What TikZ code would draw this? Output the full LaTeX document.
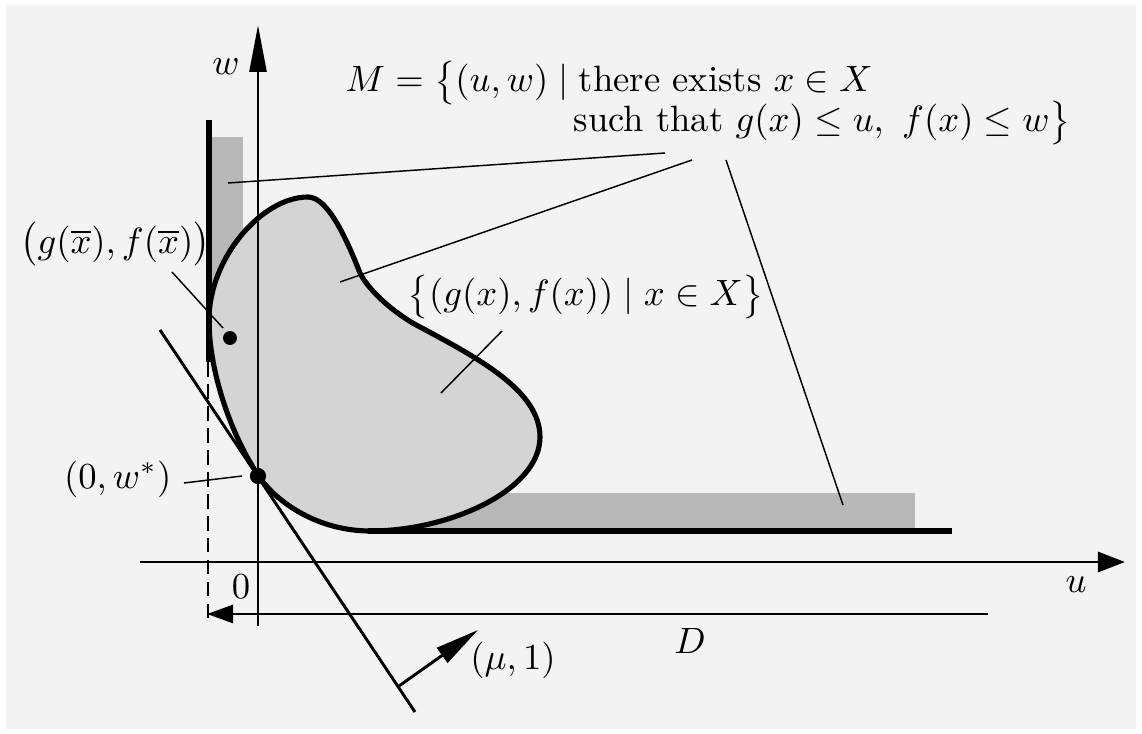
\documentclass[tikz,border=0pt]{standalone}
\usepackage{amsmath,amssymb}
\usepackage{tikz}
\usetikzlibrary{arrows.meta,calc,positioning}
\definecolor{bggray}{RGB}{243,243,243}
\definecolor{setgray}{RGB}{212,212,212}
\definecolor{rectgray}{RGB}{184,184,184}
\tikzset{
  axis/.style={
    line width=0.8pt
  },
  thickseg/.style={
    line width=1.6pt
  },
  leader/.style={
    line width=0.4pt
  },
  blobline/.style={
    line width=1.4pt,
    fill=setgray
  },
  dot/.style={
    circle,
    fill=black,
    inner sep=0pt
  },
  lbl/.style={
    inner sep=0pt
  }
}
\begin{document}
\begin{tikzpicture}[x=0.273pt, y=-0.273pt]
  % background
  \fill[white] (0,0) rectangle (1142,734);
  \fill[bggray] (6,5) rectangle (1136,729);

  % shaded strips of M
  \fill[rectgray] (212,137) rectangle (243,345);
  \fill[rectgray] (370,493) rectangle (915,528);

  % the set of attainable pairs
  \draw[blobline] (308,197)
    .. controls (328,197) and (347,240) .. (360,273)
    .. controls (371,295) and (402,318) .. (420,327)
    .. controls (482,360) and (540,392) .. (540,437)
    .. controls (540,490) and (450,531) .. (370,531)
    .. controls (320,531) and (277,504) .. (258,475)
    .. controls (230,433) and (209,370) .. (209,320)
    .. controls (209,258) and (262,197) .. (308,197) -- cycle;

  % boundaries of M
  \draw[thickseg] (209,120) -- (209,362);
  \draw[thickseg] (368,531) -- (952,531);
  \draw[axis, dash pattern=on 4pt off 2pt] (208,362) -- (208,620);

  % axes
  \coordinate (wbot) at (258,626);
  \coordinate (wtop) at (258,25);
  \coordinate (uleft) at (140,562);
  \coordinate (uright) at (1125,562);
  \draw[axis, -{Triangle[length=12.8pt,width=4.6pt]}] (wbot) -- (wtop);
  \draw[axis, -{Triangle[length=7.4pt,width=5.5pt]}] (uleft) -- (uright);
  \node[lbl] (wlab) at (226,67) {$w$};
  \node[lbl] (ulab) at (1076,585) {$u$};
  \node[lbl] (zero) at (241,587) {$0$};

  % distance D
  \coordinate (dright) at (988,614);
  \coordinate (dleft) at (207,614);
  \draw[axis, -{Triangle[length=7.1pt,width=4.9pt]}] (dright) -- (dleft);
  \node[lbl] (dlab) at (690,641) {$D$};

  % supporting hyperplane and normal
  \coordinate (hyp1) at (160,330);
  \coordinate (hyp2) at (415,712);
  \draw[axis] (hyp1) -- (hyp2);
  \coordinate (nbase) at (399,686);
  \coordinate (ntip) at (478,630);
  \draw[axis, -{Triangle[length=12pt,width=4.9pt]}] (nbase) -- (ntip);
  \node[lbl] (mulab) at (513,660) {$(\mu,1)$};

  % points
  \node[dot, minimum size=4.4pt] (wstar) at (258,476) {};
  \node[dot, minimum size=3.8pt] (xbar) at (230,338) {};

  % labels
  \node[lbl, anchor=base west] (mtop) at (345,92)
    {$M=\bigl\{(u,w)\mid\text{there exists }x\in X$};
  \node[lbl, anchor=base west] (mbot) at (573,132)
    {such that $g(x)\le u,\ f(x)\le w\bigr\}$};
  \node[lbl, anchor=base west] (gflab) at (407,306)
    {$\bigl\{(g(x),f(x))\mid x\in X\bigr\}$};
  \node[lbl, anchor=base west] (xbarlab) at (20,253)
    {$\bigl(g(\overline{x}),f(\overline{x})\bigr)$};
  \node[lbl, anchor=base east] (wstarlab) at (172,488) {$(0,w^*)$};

  % leader lines
  \coordinate (m1) at (665,153);
  \coordinate (m2) at (692,160);
  \coordinate (m3) at (726,160);
  \coordinate (stripv) at (228,183);
  \coordinate (blobin) at (340,282);
  \coordinate (striph) at (843,505);
  \draw[leader] (m1) -- (stripv);
  \draw[leader] (m2) -- (blobin);
  \draw[leader] (m3) -- (striph);
  \coordinate (gf1) at (502,331);
  \coordinate (gf2) at (441,393);
  \draw[leader] (gf1) -- (gf2);
  \coordinate (xb1) at (172,272);
  \coordinate (xb2) at (223,328);
  \draw[leader] (xb1) -- (xb2);
  \coordinate (ws1) at (184,483);
  \coordinate (ws2) at (242,476);
  \draw[leader] (ws1) -- (ws2);
\end{tikzpicture}
\end{document}
